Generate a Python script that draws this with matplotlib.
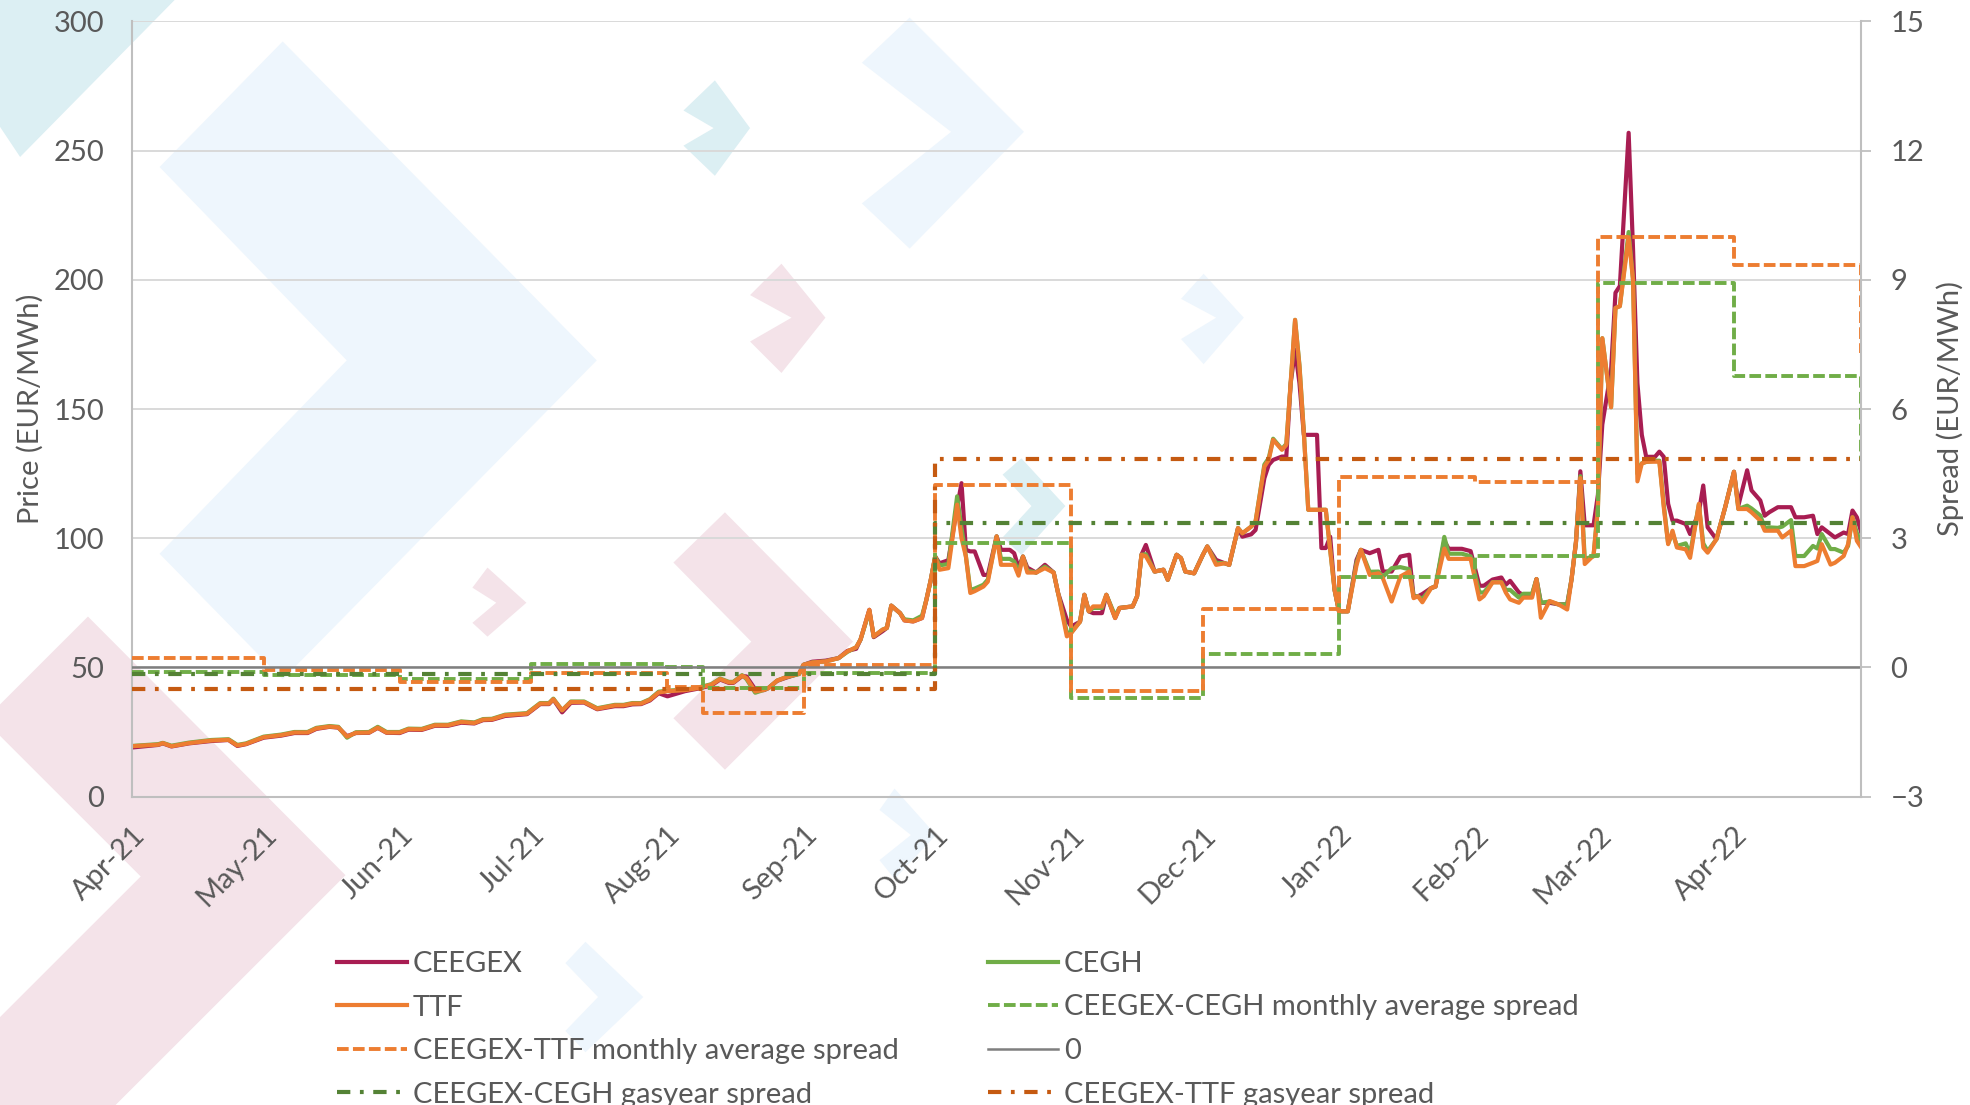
"""
plot.py
Gas hub prices (CEEGEX, CEGH, TTF) with CEEGEX spreads, Apr-21 to Apr-22.
"""
import matplotlib
matplotlib.use("Agg")
import matplotlib.pyplot as plt
import matplotlib.dates as mdates
from matplotlib.patches import Polygon
import pandas as pd

plt.rcParams['font.family'] = ['Lato', 'DejaVu Sans']

# --- daily hub prices (EUR/MWh) ---
price_dates = [
    "2021-04-01", "2021-04-07", "2021-04-08", "2021-04-10", "2021-04-14", "2021-04-19", "2021-04-23", "2021-04-25", "2021-04-27",
    "2021-05-01", "2021-05-05", "2021-05-08", "2021-05-11", "2021-05-13", "2021-05-16", "2021-05-18", "2021-05-20", "2021-05-22", "2021-05-25", "2021-05-27", "2021-05-29",
    "2021-06-01", "2021-06-03", "2021-06-06", "2021-06-09", "2021-06-12", "2021-06-15", "2021-06-18", "2021-06-20", "2021-06-22", "2021-06-25", "2021-06-30",
    "2021-07-03", "2021-07-05", "2021-07-06", "2021-07-08", "2021-07-10", "2021-07-13", "2021-07-16", "2021-07-20", "2021-07-22", "2021-07-24", "2021-07-26", "2021-07-28", "2021-07-30",
    "2021-08-01", "2021-08-05", "2021-08-08", "2021-08-11", "2021-08-13", "2021-08-15", "2021-08-16", "2021-08-18", "2021-08-19", "2021-08-21", "2021-08-23", "2021-08-24", "2021-08-26", "2021-08-28", "2021-08-31",
    "2021-09-01", "2021-09-03", "2021-09-06", "2021-09-09", "2021-09-11", "2021-09-13", "2021-09-14", "2021-09-16", "2021-09-17", "2021-09-19", "2021-09-20", "2021-09-21", "2021-09-23", "2021-09-24", "2021-09-26", "2021-09-28", "2021-09-29", "2021-09-30",
    "2021-10-01", "2021-10-02", "2021-10-04", "2021-10-06", "2021-10-07", "2021-10-08", "2021-10-09", "2021-10-10", "2021-10-12", "2021-10-13", "2021-10-15", "2021-10-16", "2021-10-18", "2021-10-19", "2021-10-20", "2021-10-21", "2021-10-22", "2021-10-24", "2021-10-26", "2021-10-28", "2021-10-29", "2021-10-31",
    "2021-11-01", "2021-11-03", "2021-11-04", "2021-11-05", "2021-11-06", "2021-11-08", "2021-11-09", "2021-11-11", "2021-11-12", "2021-11-15", "2021-11-16", "2021-11-17", "2021-11-18", "2021-11-20", "2021-11-22", "2021-11-23", "2021-11-25", "2021-11-26", "2021-11-27", "2021-11-29",
    "2021-12-01", "2021-12-02", "2021-12-04", "2021-12-06", "2021-12-07", "2021-12-09", "2021-12-10", "2021-12-12", "2021-12-13", "2021-12-15", "2021-12-16", "2021-12-17", "2021-12-19", "2021-12-20", "2021-12-21", "2021-12-22", "2021-12-23", "2021-12-24", "2021-12-25", "2021-12-27", "2021-12-28", "2021-12-29", "2021-12-30", "2021-12-31",
    "2022-01-01", "2022-01-03", "2022-01-05", "2022-01-06", "2022-01-08", "2022-01-10", "2022-01-11", "2022-01-13", "2022-01-15", "2022-01-17", "2022-01-18", "2022-01-19", "2022-01-20", "2022-01-22", "2022-01-23", "2022-01-25", "2022-01-26", "2022-01-29", "2022-01-31",
    "2022-02-02", "2022-02-03", "2022-02-05", "2022-02-07", "2022-02-08", "2022-02-09", "2022-02-11", "2022-02-12", "2022-02-14", "2022-02-15", "2022-02-16", "2022-02-18", "2022-02-20", "2022-02-22", "2022-02-23", "2022-02-24", "2022-02-25", "2022-02-26", "2022-02-28",
    "2022-03-01", "2022-03-02", "2022-03-04", "2022-03-05", "2022-03-06", "2022-03-08", "2022-03-09", "2022-03-10", "2022-03-11", "2022-03-12", "2022-03-14", "2022-03-15", "2022-03-16", "2022-03-17", "2022-03-18", "2022-03-19", "2022-03-21", "2022-03-22", "2022-03-24", "2022-03-25", "2022-03-26", "2022-03-28", "2022-03-30",
    "2022-04-01", "2022-04-02", "2022-04-04", "2022-04-05", "2022-04-07", "2022-04-08", "2022-04-09", "2022-04-11", "2022-04-12", "2022-04-14", "2022-04-15", "2022-04-17", "2022-04-19", "2022-04-20", "2022-04-21", "2022-04-23", "2022-04-24", "2022-04-26", "2022-04-27", "2022-04-28", "2022-04-29", "2022-04-30",
]

ceegex = [
    19.0, 20.0, 20.6, 19.4, 20.6, 21.5, 21.9, 19.6, 20.3,
    22.8, 23.6, 24.6, 24.6, 26.2, 27.0, 26.7, 23.4, 24.6, 24.7, 26.6, 24.7,
    24.6, 25.9, 25.8, 27.4, 27.4, 28.6, 28.3, 29.6, 29.7, 31.2, 31.9,
    35.8, 35.8, 37.6, 32.6, 36.3, 36.4, 33.8, 35.0, 35.0, 35.7, 35.8, 37.2, 40.0,
    38.8, 40.8, 41.8, 43.0, 45.3, 44.0, 44.0, 46.6, 46.5, 41.5, 41.2, 42.0, 44.8, 46.0, 47.6,
    51.0, 52.2, 52.6, 53.6, 56.4, 57.2, 60.8, 72.3, 61.7, 64.0, 65.3, 73.9, 71.0, 68.2, 67.8, 69.1, 76.2, 83.9,
    92.9, 90.3, 91.5, 112.0, 121.3, 95.5, 94.9, 94.9, 85.8, 85.8, 100.7, 95.5, 95.5, 94.2, 88.6, 92.9, 88.6, 86.7, 89.7, 86.7, 78.8, 68.4,
    65.8, 67.7, 78.1, 71.7, 71.0, 71.0, 78.1, 69.1, 73.0, 73.6, 77.5, 93.6, 97.4, 87.1, 87.8, 83.9, 93.6, 92.3, 87.1, 86.4,
    93.6, 96.8, 91.6, 90.3, 89.7, 103.9, 100.6, 101.5, 103.2, 123.2, 128.4, 130.3, 131.6, 131.6, 160.0, 172.9, 160.0, 140.0, 140.0, 140.0, 96.2, 96.2, 100.6, 80.0,
    71.7, 71.7, 91.6, 95.5, 94.2, 95.5, 87.1, 87.1, 92.9, 93.6, 77.5, 77.5, 78.4, 80.7, 81.3, 99.0, 95.9, 95.9, 95.0,
    81.6, 81.6, 84.0, 84.8, 82.0, 83.5, 79.0, 78.0, 78.0, 84.2, 75.0, 75.0, 74.4, 74.4, 84.2, 98.5, 125.9, 105.0, 105.0,
    116.8, 144.0, 165.0, 195.0, 197.6, 256.9, 212.0, 160.0, 140.0, 131.5, 131.5, 133.5, 131.5, 113.3, 106.8, 106.8, 105.5, 101.6, 110.0, 120.4, 104.2, 99.6, 112.0,
    125.7, 112.6, 126.3, 118.5, 114.6, 108.7, 110.0, 112.0, 112.0, 112.0, 108.1, 108.1, 108.7, 101.6, 104.2, 101.6, 100.3, 102.2, 101.6, 110.7, 108.1, 102.2,
]

cegh = [
    19.6, 20.3, 20.8, 19.7, 20.9, 21.9, 22.2, 20.0, 20.6,
    23.2, 24.0, 25.0, 25.0, 26.6, 27.3, 27.0, 22.8, 24.9, 25.0, 27.0, 25.0,
    25.0, 26.3, 26.2, 27.8, 27.8, 29.1, 28.7, 30.0, 30.1, 31.7, 32.3,
    36.2, 36.2, 37.9, 33.4, 36.8, 36.8, 34.2, 35.5, 35.5, 36.2, 36.2, 37.7, 40.6,
    41.0, 41.4, 42.2, 43.5, 45.7, 44.4, 44.4, 47.0, 45.5, 40.2, 41.3, 42.0, 44.9, 46.2, 47.4,
    51.0, 51.9, 52.3, 53.6, 56.0, 57.8, 60.8, 71.8, 62.0, 64.6, 65.3, 73.9, 71.0, 68.6, 68.2, 70.0, 76.2, 83.9,
    92.9, 89.5, 90.0, 116.2, 104.0, 93.0, 80.0, 80.5, 82.0, 84.0, 100.7, 92.0, 92.0, 91.0, 87.0, 92.9, 87.5, 86.7, 89.0, 86.7, 78.8, 63.5,
    63.5, 67.7, 78.1, 71.7, 73.0, 73.0, 78.1, 70.0, 73.0, 73.6, 77.5, 93.6, 93.8, 87.1, 87.8, 83.9, 93.6, 92.3, 87.1, 86.4,
    93.6, 96.8, 90.5, 90.3, 89.7, 103.9, 101.9, 104.5, 106.5, 128.5, 131.0, 138.5, 134.5, 136.5, 160.0, 184.5, 167.0, 141.0, 111.0, 111.0, 111.0, 111.0, 95.5, 80.0,
    71.7, 71.7, 90.5, 95.5, 87.0, 87.1, 85.0, 88.4, 88.8, 88.0, 77.5, 77.5, 76.5, 80.7, 81.3, 100.5, 94.0, 94.0, 93.0,
    79.0, 79.0, 83.0, 83.0, 80.0, 80.0, 77.0, 78.5, 78.5, 84.2, 75.0, 75.5, 74.4, 74.4, 84.2, 98.5, 124.0, 92.0, 93.0,
    112.0, 177.4, 150.7, 189.1, 189.8, 218.5, 200.0, 125.0, 129.0, 129.5, 130.0, 130.0, 113.0, 98.0, 102.0, 97.0, 98.0, 94.0, 113.0, 98.0, 95.0, 99.6, 112.0,
    125.7, 111.3, 112.6, 111.5, 108.8, 104.0, 104.2, 104.0, 104.5, 107.0, 93.1, 93.1, 97.0, 96.0, 101.6, 95.8, 95.8, 94.4, 97.0, 108.1, 102.0, 98.0,
]

ttf = [
    19.5, 20.1, 20.7, 19.5, 20.7, 21.7, 22.0, 19.8, 20.4,
    23.0, 23.8, 24.8, 24.8, 26.4, 27.1, 26.8, 23.2, 24.7, 24.8, 26.7, 24.8,
    24.8, 26.1, 26.0, 27.6, 27.6, 28.9, 28.5, 29.8, 29.9, 31.5, 32.1,
    36.0, 36.0, 37.7, 33.4, 36.6, 36.6, 34.0, 35.3, 35.3, 36.0, 36.0, 37.5, 40.3,
    40.8, 41.2, 42.0, 43.3, 45.5, 44.2, 44.2, 46.8, 45.9, 40.7, 41.3, 42.0, 44.9, 46.2, 47.6,
    51.0, 51.9, 52.3, 53.6, 56.2, 57.8, 60.8, 72.3, 62.0, 64.6, 65.3, 73.9, 71.0, 68.2, 67.8, 69.1, 76.2, 83.9,
    92.9, 87.8, 88.4, 113.0, 100.0, 92.9, 78.8, 79.5, 81.3, 83.2, 100.7, 89.7, 89.7, 89.7, 85.5, 92.9, 86.7, 86.7, 88.4, 86.7, 78.8, 62.0,
    63.3, 67.7, 78.1, 71.7, 73.6, 73.6, 78.1, 69.1, 73.0, 73.6, 77.5, 93.6, 93.0, 87.1, 87.8, 83.9, 93.6, 92.3, 87.1, 86.4,
    93.6, 96.8, 89.7, 90.3, 89.7, 103.9, 101.9, 104.5, 106.5, 127.7, 130.3, 138.1, 134.2, 136.1, 160.0, 184.5, 166.4, 140.6, 111.0, 111.0, 111.0, 111.0, 95.5, 80.0,
    71.7, 71.7, 89.5, 95.5, 85.8, 86.4, 84.5, 75.5, 85.2, 87.1, 76.8, 77.5, 75.2, 80.7, 81.3, 96.0, 92.0, 92.0, 92.0,
    76.3, 77.6, 82.9, 82.9, 79.0, 76.3, 75.0, 77.0, 77.0, 84.2, 69.2, 75.7, 74.4, 72.4, 84.2, 98.5, 123.3, 90.0, 93.3,
    111.5, 177.4, 150.7, 189.1, 189.8, 216.5, 200.0, 122.0, 128.9, 129.6, 129.6, 129.6, 112.0, 97.7, 102.9, 96.4, 95.7, 92.4, 113.3, 96.4, 94.4, 99.6, 112.0,
    125.7, 111.3, 111.3, 110.0, 106.8, 102.9, 102.9, 102.9, 100.3, 102.9, 89.2, 89.2, 90.5, 91.2, 97.7, 89.8, 90.5, 93.1, 97.7, 108.1, 99.0, 96.4,
]

# --- spreads (EUR/MWh, right axis), step values from the given date on ---
monthly_dates = ["2021-04-01", "2021-05-01", "2021-06-01", "2021-07-01", "2021-08-01", "2021-08-09",
                 "2021-09-01", "2021-10-01", "2021-11-01", "2021-12-01", "2022-01-01", "2022-02-01",
                 "2022-03-01", "2022-04-01", "2022-04-29", "2022-04-30"]
ttf_monthly_spread = [0.22, -0.05, -0.35, -0.14, -0.45, -1.06, 0.05, 4.23, -0.54, 1.35, 4.43, 4.31,
                      9.99, 9.34, 9.34, 7.3]
cegh_monthly_spread = [-0.10, -0.17, -0.28, 0.07, 0.00, -0.48, -0.14, 2.88, -0.71, 0.32, 2.10, 2.59,
                       8.93, 6.77, 6.77, 4.8]

gasyear_dates = ["2021-04-01", "2021-10-01", "2022-04-30"]
ttf_gasyear_spread = [-0.51, 4.84, 4.84]
cegh_gasyear_spread = [-0.15, 3.36, 3.36]

zero_dates = ["2021-04-01", "2022-04-30"]
zero_line = [0, 0]

# colours
C_CEEGEX = '#A81D52'
C_CEGH = '#70AD47'
C_TTF = '#ED7D31'
C_CEGH_GY = '#548235'
C_TTF_GY = '#C55A11'
C_ZERO = '#7F7F7F'
C_TEXT = '#595959'
C_AXIS = '#BFBFBF'
C_GRID = '#D9D9D9'

# background chevrons, in 1568x880 picture coordinates
TEAL, BLUE, PINK = '#DCEFF3', '#EEF6FD', '#F4E3E9'
chevrons = [
    ([(0, 0), (139, 0), (16, 125), (0, 101)], TEAL),
    ([(127, 133), (225, 33), (475, 287), (225, 541), (127, 441), (276, 287)], BLUE),
    ([(544, 88), (569, 64), (597, 102), (569, 140), (544, 116), (568, 102)], TEAL),
    ([(686, 50), (724, 14), (815, 105), (724, 198), (686, 162), (757, 105)], BLUE),
    ([(597, 235), (622, 210), (657, 253), (622, 297), (597, 272), (630, 253)], PINK),
    ([(940, 238), (958, 218), (990, 253), (958, 290), (940, 270), (968, 253)], BLUE),
    ([(798, 378), (813, 365), (848, 403), (813, 442), (798, 428), (821, 403)], TEAL),
    ([(536, 448), (577, 408), (679, 511), (577, 613), (536, 572), (598, 511)], PINK),
    ([(376, 468), (388, 452), (419, 480), (388, 507), (376, 496), (395, 480)], PINK),
    ([(0, 561), (70, 491), (275, 697), (92, 880), (0, 880), (0, 810), (112, 698), (0, 586)], PINK),
    ([(450, 767), (466, 750), (512, 794), (466, 838), (450, 821), (476, 794)], BLUE),
    ([(700, 645), (712, 628), (745, 665), (712, 700), (700, 685), (725, 665)], BLUE),
]

fig = plt.figure(figsize=(19.7, 11.05), dpi=100)

bg = fig.add_axes([0, 0, 1, 1], zorder=-1)
bg.set_xlim(0, 1568)
bg.set_ylim(880, 0)
bg.axis('off')
for pts, col in chevrons:
    bg.add_patch(Polygon(pts, closed=True, facecolor=col, edgecolor='none'))

ax = fig.add_axes([0.067, 0.2791, 0.8778, 0.7015])
ax.patch.set_visible(False)
ax2 = ax.twinx()

d = pd.to_datetime(price_dates)
l_ceegex, = ax.plot(d, ceegex, color=C_CEEGEX, lw=3.0, label='CEEGEX')
l_cegh, = ax.plot(d, cegh, color=C_CEGH, lw=3.0, label='CEGH')
l_ttf, = ax.plot(d, ttf, color=C_TTF, lw=3.0, label='TTF')

md = pd.to_datetime(monthly_dates)
gd = pd.to_datetime(gasyear_dates)
dash = (0, (3, 1.1))
dashdot = (0, (3.2, 2.3, 0.9, 2.3))
l_cegh_m, = ax2.plot(md, cegh_monthly_spread, color=C_CEGH, lw=2.8, ls=dash, drawstyle='steps-post',
                     label='CEEGEX-CEGH monthly average spread')
l_ttf_m, = ax2.plot(md, ttf_monthly_spread, color=C_TTF, lw=2.8, ls=dash, drawstyle='steps-post',
                    label='CEEGEX-TTF monthly average spread')
l_zero, = ax2.plot(pd.to_datetime(zero_dates), zero_line, color=C_ZERO, lw=1.8, label='0')
l_cegh_gy, = ax2.plot(gd, cegh_gasyear_spread, color=C_CEGH_GY, lw=3.0, ls=dashdot, drawstyle='steps-post',
                      label='CEEGEX-CEGH gasyear spread')
l_ttf_gy, = ax2.plot(gd, ttf_gasyear_spread, color=C_TTF_GY, lw=3.0, ls=dashdot, drawstyle='steps-post',
                     label='CEEGEX-TTF gasyear spread')

# axes
ax.set_xlim(pd.Timestamp("2021-04-01"), pd.Timestamp("2022-04-30"))
ax.set_ylim(0, 300)
ax.set_yticks(range(0, 301, 50))
ax2.set_ylim(-3, 15)
ax2.set_yticks(range(-3, 16, 3))
ax.yaxis.grid(True, color=C_GRID, lw=1.4)
ax.set_axisbelow(True)

for a in (ax, ax2):
    for s in a.spines.values():
        s.set_visible(False)
ax.spines['left'].set_visible(True)
ax.spines['left'].set_color(C_AXIS)
ax.spines['left'].set_linewidth(1.5)
ax.spines['bottom'].set_visible(True)
ax.spines['bottom'].set_color(C_AXIS)
ax.spines['bottom'].set_linewidth(1.5)
ax2.spines['right'].set_visible(True)
ax2.spines['right'].set_color(C_AXIS)
ax2.spines['right'].set_linewidth(1.5)

ax.tick_params(axis='y', length=0, pad=20, labelsize=21, labelcolor=C_TEXT)
ax2.tick_params(axis='y', length=7, width=1.3, color=C_AXIS, pad=14, labelsize=21, labelcolor=C_TEXT)

ax.xaxis.set_major_locator(mdates.MonthLocator())
ax.xaxis.set_major_formatter(mdates.DateFormatter('%b-%y'))
ax.tick_params(axis='x', length=0, pad=18, labelsize=21, labelcolor=C_TEXT)
for lab in ax.get_xticklabels():
    lab.set_rotation(45)
    lab.set_ha('right')
    lab.set_va('top')
    lab.set_rotation_mode('anchor')

fig.text(0.0152, 0.630, 'Price (EUR/MWh)', rotation=90, ha='center', va='center', fontsize=21, color=C_TEXT)
fig.text(0.9898, 0.630, 'Spread (EUR/MWh)', rotation=90, ha='center', va='center', fontsize=21, color=C_TEXT)

# legend in two columns
leg_kw = dict(frameon=False, fontsize=21, labelcolor=C_TEXT, loc='upper left', borderpad=0,
              borderaxespad=0, handlelength=2.4, handletextpad=0.2, labelspacing=0.6)
leg1 = fig.legend(handles=[l_ceegex, l_ttf, l_ttf_m, l_cegh_gy], bbox_to_anchor=(337 / 1970, 1 - 951 / 1105), **leg_kw)
leg2 = fig.legend(handles=[l_cegh, l_cegh_m, l_zero, l_ttf_gy], bbox_to_anchor=(988 / 1970, 1 - 951 / 1105), **leg_kw)

fig.savefig('out.png', dpi=100)
